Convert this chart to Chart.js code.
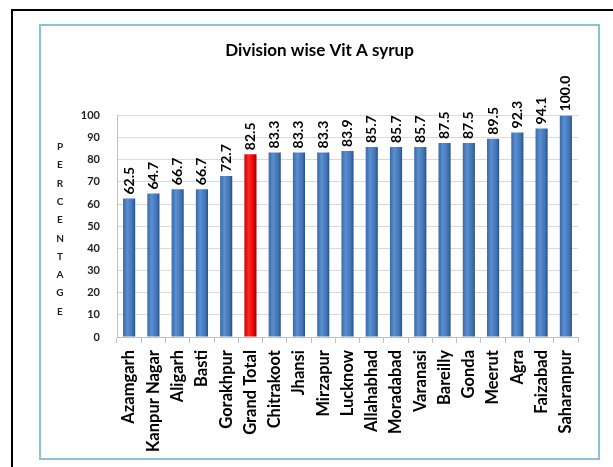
<!DOCTYPE html>
<html>
<head>
<meta charset="utf-8">
<script src="https://cdn.jsdelivr.net/npm/chart.js@4"></script>
<style>
  body { margin: 0; background: #fff; overflow: hidden; width: 613px; height: 467px; position: relative; }
  #outer { position: absolute; left: 11px; top: 9px; width: 700px; height: 600px; border: 2px solid #000; }
  #frame { position: absolute; left: 39px; top: 24px; width: 557px; height: 432px; border: 2px solid #86c3d4; }
  canvas { position: absolute; left: 0; top: 0; }
</style>
</head>
<body>
<div id="outer"></div>
<div id="frame"></div>
<canvas id="myChart" width="613" height="467"></canvas>
<script>
var divisions = ['Azamgarh', 'Kanpur Nagar', 'Aligarh', 'Basti', 'Gorakhpur', 'Grand Total', 'Chitrakoot',
  'Jhansi', 'Mirzapur', 'Lucknow', 'Allahabhad', 'Moradabad', 'Varanasi', 'Bareilly', 'Gonda', 'Meerut',
  'Agra', 'Faizabad', 'Saharanpur'];
var coverage = [62.5, 64.7, 66.7, 66.7, 72.7, 82.5, 83.3, 83.3, 83.3, 83.9, 85.7, 85.7, 85.7, 87.5, 87.5,
  89.5, 92.3, 94.1, 100.0];
var yTitleLetters = 'PERCENTAGE'.split('');
var highlight = 'Grand Total';

var FONT = 'Lato, "Open Sans", sans-serif';

// cylinder-ish fill for each bar
function barFill(c) {
  var red = divisions[c.dataIndex] === highlight;
  var xs = c.chart.scales && c.chart.scales.x;
  if (!xs || xs.width === undefined) return red ? '#ff0000' : '#4a7ebb';
  var x = xs.getPixelForValue(c.dataIndex);
  var g = c.chart.ctx.createLinearGradient(x - 6, 0, x + 6, 0);
  if (red) {
    g.addColorStop(0, '#c80000'); g.addColorStop(0.35, '#ff2a2a');
    g.addColorStop(0.8, '#e00000'); g.addColorStop(1, '#a00000');
  } else {
    g.addColorStop(0, '#3a6aa8'); g.addColorStop(0.35, '#5b8fd0');
    g.addColorStop(0.8, '#3f72b3'); g.addColorStop(1, '#26508a');
  }
  return g;
}

var valueLabels = {
  id: 'valueLabels',
  afterDatasetsDraw: function (chart) {
    var ctx = chart.ctx;
    var meta = chart.getDatasetMeta(0);
    ctx.save();
    ctx.font = 'bold 14px ' + FONT;
    ctx.fillStyle = '#000';
    ctx.textAlign = 'left';
    ctx.textBaseline = 'middle';
    meta.data.forEach(function (bar, i) {
      ctx.save();
      ctx.translate(bar.x, bar.y - 4);
      ctx.rotate(-Math.PI / 2);
      ctx.fillText(coverage[i].toFixed(1), 0, 0);
      ctx.restore();
    });
    ctx.restore();
  }
};

// stacked letters for the y axis title
var yTitle = {
  id: 'yTitle',
  afterDraw: function (chart) {
    var ctx = chart.ctx;
    var a = chart.chartArea;
    var step = 18.3;
    var y0 = (a.top + a.bottom) / 2 + 3 - step * (yTitleLetters.length - 1) / 2;
    ctx.save();
    ctx.font = 'bold 10px ' + FONT;
    ctx.fillStyle = '#222';
    ctx.textAlign = 'center';
    ctx.textBaseline = 'middle';
    yTitleLetters.forEach(function (ch, i) {
      ctx.fillText(ch, a.left - 57, y0 + i * step);
    });
    ctx.restore();
  }
};

var ctx = document.getElementById('myChart').getContext('2d');
var myChart = new Chart(ctx, {
  type: 'bar',
  data: {
    labels: divisions,
    datasets: [{
      data: coverage,
      backgroundColor: barFill,
      borderWidth: 0,
      barPercentage: 0.5,
      categoryPercentage: 1
    }]
  },
  options: {
    responsive: false,
    animation: false,
    layout: { padding: { left: 61, right: 35, top: 25, bottom: 8 } },
    plugins: {
      legend: { display: false },
      tooltip: { enabled: false },
      title: {
        display: true,
        text: 'Division wise Vit A syrup',
        color: '#000',
        font: { family: FONT, size: 17, weight: 'bold' },
        padding: { top: 15, bottom: 55 }
      }
    },
    scales: {
      x: {
        afterFit: function (s) { s.height = 122; },
        grid: { offset: true, drawOnChartArea: false, tickLength: 6, color: '#c0c0c0' },
        border: { color: '#c0c0c0' },
        ticks: {
          autoSkip: false, minRotation: 90, maxRotation: 90, padding: 7,
          color: '#000', font: { family: FONT, size: 16.5, weight: 'bold' }
        }
      },
      y: {
        min: 0, max: 100,
        afterFit: function (s) { s.width = 56; },
        grid: { color: '#d9d9d9', drawTicks: false },
        border: { color: '#c0c0c0' },
        ticks: {
          stepSize: 10, padding: 17,
          color: '#222', font: { family: FONT, size: 11, weight: 'bold' }
        }
      }
    }
  },
  plugins: [valueLabels, yTitle]
});
</script>
</body>
</html>
